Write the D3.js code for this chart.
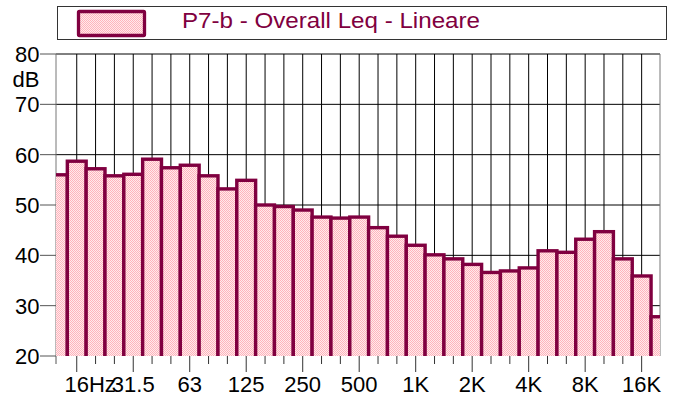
<!DOCTYPE html>
<html>
<head>
<meta charset="utf-8">
<script src="https://cdn.jsdelivr.net/npm/d3@7"></script>
<style>
  html, body { margin: 0; padding: 0; background: #fff; }
  svg { display: block; font-family: "Liberation Sans", Arial, sans-serif; }
</style>
</head>
<body>
<svg id="chart" width="679" height="400"></svg>
<script>
// ---- data ----
const bands = ["12.5","16","20","25","31.5","40","50","63","80","100","125","160","200","250","315","400","500","630","800","1K","1.25K","1.6K","2K","2.5K","3.15K","4K","5K","6.3K","8K","10K","12.5K","16K","20K"];
const values = [56.0, 58.7, 57.2, 55.8, 56.1, 59.1, 57.4, 57.9, 55.8, 53.2, 54.9, 50.0, 49.7, 49.0, 47.6, 47.4, 47.6, 45.5, 43.8, 42.0, 40.1, 39.3, 38.2, 36.6, 36.9, 37.5, 40.9, 40.6, 43.2, 44.7, 39.3, 35.9, 27.8];
const majorBands = ["16","31.5","63","125","250","500","1K","2K","4K","8K","16K"];
const majorLabels = ["16Hz","31.5","63","125","250","500","1K","2K","4K","8K","16K"];
const yTicks = [20, 30, 40, 50, 60, 70, 80];
const yUnit = "dB";
const seriesName = "P7-b - Overall Leq - Lineare";

// ---- layout ----
const L = 56, R = 660, T = 54, B = 356;
const dark = "#800040";
const svg = d3.select("#chart");

const x = d3.scaleBand().domain(bands).range([48.5, 669.9]).padding(0);
const bw = x.bandwidth();
const cx = b => x(b) + bw / 2;
const y = d3.scaleLinear().domain([20, 80]).range([B, T]);

// pattern
const defs = svg.append("defs");
const pat = defs.append("pattern").attr("id", "dots").attr("patternUnits", "userSpaceOnUse")
  .attr("width", 2).attr("height", 2);
pat.append("rect").attr("width", 2).attr("height", 2).attr("fill", "#ffeaec");
pat.append("rect").attr("x", 0).attr("y", 0).attr("width", 1).attr("height", 1).attr("fill", "#ffb4bc");
pat.append("rect").attr("x", 1).attr("y", 1).attr("width", 1).attr("height", 1).attr("fill", "#ffb4bc");
defs.append("clipPath").attr("id", "plotclip").append("rect")
  .attr("x", L).attr("y", T - 3).attr("width", R - L).attr("height", B - T + 3);

// legend
svg.append("rect").attr("x", 57.5).attr("y", 6.5).attr("width", 609).attr("height", 33)
  .attr("fill", "#fff").attr("stroke", "#333").attr("stroke-width", 1);
svg.append("rect").attr("x", 78.5).attr("y", 11.5).attr("width", 66).attr("height", 24).attr("rx", 1)
  .attr("fill", "url(#dots)").attr("stroke", dark).attr("stroke-width", 3.3);
svg.append("text").attr("x", 182).attr("y", 27.5).attr("fill", dark)
  .attr("font-size", 22).attr("textLength", 298).attr("lengthAdjust", "spacingAndGlyphs")
  .text(seriesName);

// grid
const grid = svg.append("g");
grid.selectAll("line.h").data(yTicks.filter(v => v > 20)).join("line")
  .attr("x1", L).attr("x2", R).attr("y1", d => y(d)).attr("y2", d => y(d))
  .attr("stroke", "#000").attr("stroke-width", 1);
const vlines = bands.slice(1, bands.length - 1);
grid.selectAll("line.v").data(vlines).join("line")
  .attr("x1", d => cx(d)).attr("x2", d => cx(d)).attr("y1", T).attr("y2", B)
  .attr("stroke", "#000").attr("stroke-width", 1);
grid.append("line").attr("x1", L).attr("x2", L).attr("y1", T).attr("y2", B).attr("stroke", "#777");
grid.append("line").attr("x1", R).attr("x2", R).attr("y1", T).attr("y2", B).attr("stroke", "#777");

// bars
const bars = svg.append("g").attr("clip-path", "url(#plotclip)");
bars.selectAll("rect").data(bands).join("rect")
  .attr("x", d => x(d)).attr("width", bw)
  .attr("y", (d, i) => y(values[i]))
  .attr("height", (d, i) => B + 6 - y(values[i]))
  .attr("fill", "url(#dots)").attr("stroke", dark).attr("stroke-width", 3.4);

// y axis
const ya = svg.append("g");
ya.selectAll("line").data(yTicks).join("line")
  .attr("x1", 40).attr("x2", L).attr("y1", d => y(d)).attr("y2", d => y(d))
  .attr("stroke", "#555").attr("stroke-width", 1);
ya.selectAll("text").data(yTicks).join("text")
  .attr("x", 39.5).attr("y", d => y(d)).attr("dy", "0.36em")
  .attr("text-anchor", "end").attr("font-size", 22).attr("fill", "#000")
  .text(d => d);
ya.append("text").attr("x", 39.5).attr("y", 79).attr("dy", "0.36em")
  .attr("text-anchor", "end").attr("font-size", 22).attr("fill", "#000").text(yUnit);

// x axis ticks
const xa = svg.append("g");
xa.append("line").attr("x1", L).attr("x2", L).attr("y1", B).attr("y2", 364).attr("stroke", "#555");
xa.selectAll("line.t").data(vlines).join("line")
  .attr("x1", d => cx(d)).attr("x2", d => cx(d)).attr("y1", B)
  .attr("y2", d => majorBands.includes(d) ? 372 : 364)
  .attr("stroke", "#333").attr("stroke-width", 1);
xa.selectAll("text").data(majorBands).join("text")
  .attr("x", d => cx(d)).attr("y", 392)
  .attr("text-anchor", "middle").attr("font-size", 22).attr("fill", "#000")
  .text((d, i) => majorLabels[i])
  .each(function(d, i) {
    if (majorLabels[i] !== d) {
      // unit suffix: centre the number on the tick, append the unit
      const t = d3.select(this);
      t.text(d);
      const w = this.getComputedTextLength();
      t.attr("text-anchor", "start").attr("x", cx(d) - w / 2).text(majorLabels[i]);
    }
  });
</script>
</body>
</html>
